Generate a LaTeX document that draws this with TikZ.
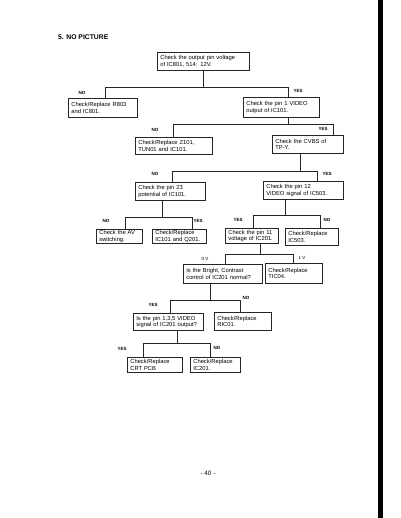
\documentclass[tikz,border=0pt]{standalone}
\usepackage{fontspec}
\setmainfont{Liberation Sans}
\begin{document}
\begin{tikzpicture}[x=1pt,y=-1pt,
  ln/.style={draw=black!85, line width=0.7pt},
  bx/.code 2 args={\pgfmathsetlengthmacro\bxw{#1pt-6pt}\pgfkeysalso{text width=\bxw, minimum height=#2pt}},
  box/.style={ln, anchor=north west, align=left, inner xsep=3pt, inner ysep=0pt,
    font=\fontsize{5.8}{6.6}\selectfont},
  lab/.style={font=\fontsize{4.5}{5}\selectfont\bfseries, inner sep=0pt}]
\useasboundingbox (0,0) rectangle (400,518);
\fill[black] (378,0) rectangle (383,518);
\node[anchor=west, inner sep=0pt, font=\fontsize{6.8}{7}\selectfont\bfseries] (title) at (58,37) {5. NO PICTURE};
\node[inner sep=0pt, font=\fontsize{6.3}{7}\selectfont] (page) at (208,473) {- 40 -};
% boxes
\node[box, bx={92}{18}] (b1) at (157,52) {Check the output pin voltage\\of IC801, 514: 12V.};
\node[box, bx={69}{19}] (b2) at (68,98) {Check/Replace R803\\and IC801.};
\node[box, bx={76}{20}] (b3) at (243,97) {Check the pin 1 VIDEO\\output of IC101.};
\node[box, bx={77}{17}] (b4) at (135,137) {Check/Replace Z101,\\TUN01 and IC101.};
\node[box, bx={71}{18}] (b5) at (272,135) {Check the CVBS of\\TP-Y.};
\node[box, bx={70}{18}] (b6) at (135,182) {Check the pin 23\\potential of IC101.};
\node[box, bx={80}{18}] (b7) at (263,181) {Check the pin 12\\VIDEO signal of IC503.};
\node[box, bx={46}{14}] (b8) at (96,229) {Check the AV\\switching.};
\node[box, bx={54}{14}] (b9) at (152,229) {Check/Replace\\IC101 and Q201.};
\node[box, bx={53}{15}] (b10) at (225,228) {Check the pin 11\\voltage of IC201.};
\node[box, bx={53}{17}] (b11) at (285,228) {Check/Replace\\IC503.};
\node[box, bx={79}{19}] (b12) at (183,264) {Is the Bright, Contrast\\control of IC201 normal?};
\node[box, bx={57}{20}] (b13) at (265,263) {Check/Replace\\TIC04.};
\node[box, bx={70}{17}] (b14) at (133,313) {Is the pin 1,3,5 VIDEO\\signal of IC201 output?};
\node[box, bx={57}{18}] (b15) at (214,312) {Check/Replace\\RIC01.};
\node[box, bx={55}{15}] (b16) at (127,357) {Check/Replace\\CRT PCB};
\node[box, bx={50}{15}] (b17) at (190,357) {Check/Replace\\IC201.};
% junction coordinates
\coordinate (s1) at (203,87);  \coordinate (l1) at (105,87);  \coordinate (r1) at (288,87);
\coordinate (s2) at (288,124); \coordinate (l2) at (173,124); \coordinate (r2) at (333,124);
\coordinate (s3) at (300,171); \coordinate (l3) at (172,171); \coordinate (r3) at (317,171);
\coordinate (s4) at (162,217); \coordinate (l4) at (125,217); \coordinate (r4) at (192,217);
\coordinate (s5) at (285,215); \coordinate (l5) at (253,215); \coordinate (r5) at (320,215);
\coordinate (s6) at (260,254); \coordinate (l6) at (225,254); \coordinate (r6) at (293,254);
\coordinate (s7) at (210,300); \coordinate (l7) at (170,300); \coordinate (r7) at (240,300);
\coordinate (s8) at (177,343); \coordinate (l8) at (143,343); \coordinate (r8) at (210,343);
% connectors
\foreach \p/\s/\a/\b in {b1/1/b2/b3, b3/2/b4/b5, b5/3/b6/b7, b6/4/b8/b9, b7/5/b10/b11, b10/6/b12/b13, b12/7/b14/b15, b14/8/b16/b17}{
  \draw[ln] (s\s |- \p.south) -- (s\s);
  \draw[ln] (l\s) -- (r\s);
  \draw[ln] (l\s) -- (l\s |- \a.north);
  \draw[ln] (r\s) -- (r\s |- \b.north);
}
% labels
\node[lab] (n1) at (82,93) {NO};   \node[lab] (y1) at (298,91) {YES};
\node[lab] (n2) at (155,130) {NO}; \node[lab] (y2) at (323,129) {YES};
\node[lab] (n3) at (155,174) {NO}; \node[lab] (y3) at (327,174) {YES};
\node[lab] (n4) at (106,221) {NO}; \node[lab] (y4) at (198,221) {YES};
\node[lab] (y5) at (238,220) {YES}; \node[lab] (n5) at (327,220) {NO};
\node[lab, font=\fontsize{4.5}{5}\selectfont] (v0) at (205,259) {0 V};
\node[lab, font=\fontsize{4.5}{5}\selectfont] (v1) at (302,258) {1 V};
\node[lab] (y7) at (153,305) {YES}; \node[lab] (n7) at (246,298) {NO};
\node[lab] (y8) at (122,349) {YES}; \node[lab] (n8) at (217,348) {NO};
\end{tikzpicture}
\end{document}
